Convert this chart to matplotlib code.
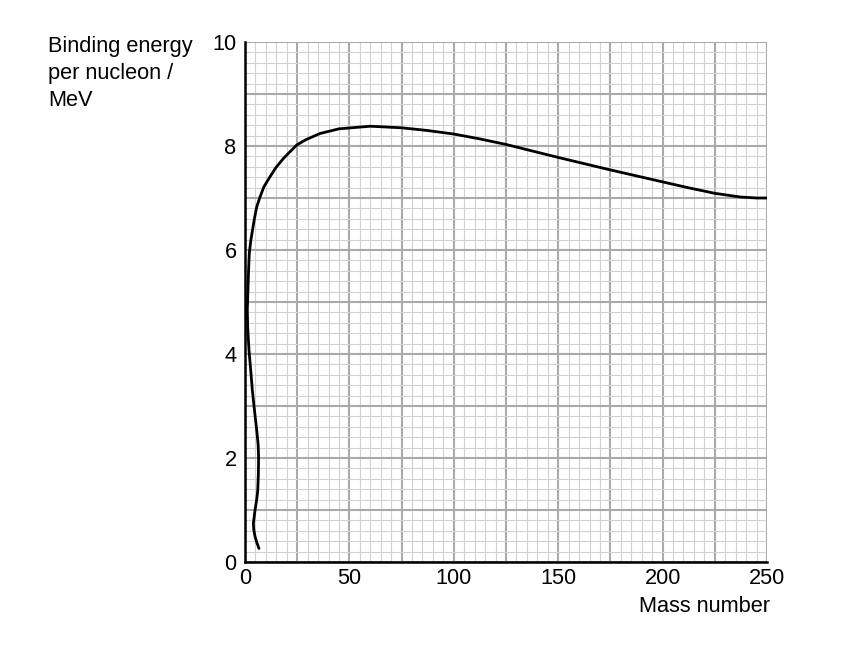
import numpy as np
import matplotlib.pyplot as plt
from matplotlib.ticker import MultipleLocator

plt.rcParams['font.family'] = ['Liberation Sans', 'DejaVu Sans']

# curve, in order along the line (starts at the bottom)
mass_number = [6.7, 5.6, 4.8, 4.2, 4.0, 4.8, 5.6, 6.1, 6.4, 6.5, 6.3, 5.7,
               4.3, 3.5, 2.7, 1.9, 1.3, 1.1, 1.4, 1.7, 2.05, 2.8, 4.4, 5.6,
               7.2, 9.1, 12.0, 14.7, 18.4, 20.8, 24.8, 29.1, 35.9, 45, 60,
               75, 87, 100, 112, 125, 150, 175, 200, 212, 225, 237, 245, 250]
binding_energy = [0.26, 0.38, 0.49, 0.62, 0.74, 1.0, 1.2, 1.38, 1.7, 2.0,
                  2.25, 2.5, 3.0, 3.31, 3.7, 4.08, 4.5, 4.85, 5.23, 5.6,
                  5.94, 6.19, 6.58, 6.83, 7.02, 7.22, 7.41, 7.58, 7.76, 7.86,
                  8.02, 8.12, 8.24, 8.33, 8.38, 8.35, 8.3, 8.23, 8.14, 8.03,
                  7.78, 7.54, 7.31, 7.2, 7.09, 7.02, 7.0, 7.0]

x_label_step = 50
y_label_step = 2

fig = plt.figure(figsize=(8.54, 6.48), dpi=100)
ax = fig.add_axes([0.2869, 0.1327, 0.6112, 0.8025])

ax.plot(mass_number, binding_energy, color='black', lw=2.0,
        solid_joinstyle='round', solid_capstyle='round', zorder=5)

ax.set_xlim(0, 250)
ax.set_ylim(0, 10)

# graph-paper grid
ax.xaxis.set_major_locator(MultipleLocator(25))
ax.yaxis.set_major_locator(MultipleLocator(1))
ax.xaxis.set_minor_locator(MultipleLocator(5))
ax.yaxis.set_minor_locator(MultipleLocator(0.2))
ax.grid(which='major', color='#aaaaaa', lw=1.5)
ax.grid(which='minor', color='#d2d2d2', lw=0.8)
ax.set_axisbelow(True)

# labels only every 50 / every 2
ax.set_xticklabels([str(int(v)) if v % x_label_step == 0 else ''
                    for v in ax.get_xticks()])
ax.set_yticklabels([str(int(v)) if v % y_label_step == 0 else ''
                    for v in ax.get_yticks()])
ax.tick_params(which='both', length=0, labelsize=15.7)
ax.tick_params(axis='x', pad=4)
ax.tick_params(axis='y', pad=6)

for s in ['top', 'right']:
    ax.spines[s].set_visible(False)
for s in ['left', 'bottom']:
    ax.spines[s].set_linewidth(1.8)
    ax.spines[s].set_color('black')

fig.text(48 / 854, 1 - 36 / 648, 'Binding energy\nper nucleon /\nMeV',
         fontsize=15.7, ha='left', va='top', linespacing=1.36)
fig.text(770 / 854, 1 - 607 / 648, 'Mass number', fontsize=15.7,
         ha='right', va='center')

fig.savefig('out.png', dpi=100)
